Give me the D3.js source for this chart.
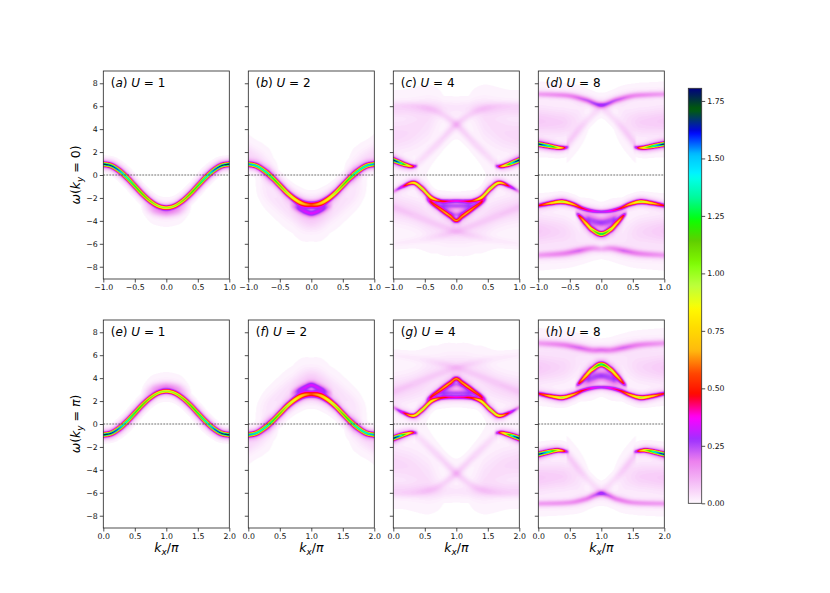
<!DOCTYPE html>
<html>
<head>
<meta charset="utf-8">
<script src="https://cdn.jsdelivr.net/npm/d3@7"></script>
<style>
  body { margin: 0; background: #fff; }
  svg { display: block; font-family: "DejaVu Sans", sans-serif; }
</style>
</head>
<body>
<svg id="main" width="830" height="593"></svg>
<script>
// ---- chart values ----
const vmax = 1.805;
const yTicks = [-8, -6, -4, -2, 0, 2, 4, 6, 8];
const xTicksTop = [-1, -0.5, 0, 0.5, 1];
const xTicksBottom = [0, 0.5, 1, 1.5, 2];
const cbTicks = [0, 0.25, 0.5, 0.75, 1, 1.25, 1.5, 1.75];
const panelLetters = ["a", "b", "c", "d", "e", "f", "g", "h"];
const panelU = [1, 2, 4, 8, 1, 2, 4, 8];
const rowKy = ["0", "π"];

const kA = [-1, -0.875, -0.75, -0.625, -0.5, -0.375, -0.25, -0.125, 0, 0.125, 0.25, 0.375, 0.5, 0.625, 0.75, 0.875, 1];
const kE = [0, 0.125, 0.25, 0.375, 0.5, 0.625, 0.75, 0.875, 1, 1.125, 1.25, 1.375, 1.5, 1.625, 1.75, 1.875, 2];

// each band: k nodes, omega centre w, peak weight a, width s
const bandsA = [
  { k: kA, w: [0.95, 0.81, 0.39, -0.22, -0.95, -1.68, -2.29, -2.71, -2.85, -2.71, -2.29, -1.68, -0.95, -0.22, 0.39, 0.81, 0.95],
    a: [1.78, 1.72, 1.6, 1.45, 1.3, 1.2, 1.1, 1.0, 0.95, 1.0, 1.1, 1.2, 1.3, 1.45, 1.6, 1.72, 1.78], s: 0.11 },
  { k: [-0.4, -0.2, 0, 0.2, 0.4], w: [-2.6, -3.1, -3.25, -3.1, -2.6], a: [0, 0.1, 0.14, 0.1, 0], s: 0.28 },
];
const bandsB = [
  { k: kA, w: [0.95, 0.8, 0.38, -0.2, -0.9, -1.6, -2.15, -2.5, -2.6, -2.5, -2.15, -1.6, -0.9, -0.2, 0.38, 0.8, 0.95],
    a: [1.55, 1.5, 1.42, 1.3, 1.15, 1.0, 0.85, 0.65, 0.55, 0.65, 0.85, 1.0, 1.15, 1.3, 1.42, 1.5, 1.55],
    s: [0.11, 0.11, 0.11, 0.11, 0.12, 0.13, 0.15, 0.18, 0.2, 0.18, 0.15, 0.13, 0.12, 0.11, 0.11, 0.11, 0.11] },
  { k: [-0.35, -0.2, -0.1, 0, 0.1, 0.2, 0.35], w: [-2.6, -2.95, -3.2, -3.35, -3.2, -2.95, -2.6], a: [0, 0.22, 0.28, 0.3, 0.28, 0.22, 0], s: 0.2 },
  { k: [-1, -0.8, -0.6], w: [1.8, 1.2, 0.3], a: [0.05, 0.035, 0], s: 0.5 },
  { k: [0.6, 0.8, 1], w: [0.3, 1.2, 1.8], a: [0, 0.035, 0.05], s: 0.5 },
  { k: [-0.9, -0.6, -0.3, 0, 0.3, 0.6, 0.9], w: [-1.0, -2.0, -3.2, -4.1, -3.2, -2.0, -1.0], a: [0, 0.03, 0.04, 0.05, 0.04, 0.03, 0], s: 0.55 },
  { k: [-0.82, -0.67, -0.52], w: [0, 0, 0], a: [0, 0.06, 0], s: 0.55 },
  { k: [0.52, 0.67, 0.82], w: [0, 0, 0], a: [0, 0.06, 0], s: 0.55 },
];
const bandsC = [
  { k: [-1, -0.9, -0.8, -0.7, -0.6], w: [1.3, 1.08, 0.88, 0.75, 0.8], a: [1.8, 1.55, 1.05, 0.6, 0], s: 0.11 },
  { k: [0.6, 0.7, 0.8, 0.9, 1], w: [0.8, 0.75, 0.88, 1.08, 1.3], a: [0, 0.6, 1.05, 1.55, 1.8], s: 0.11 },
  { k: [-1, -0.85, -0.68, -0.55, -0.4, -0.25, -0.12, 0, 0.12, 0.25, 0.4, 0.55, 0.68, 0.85, 1],
    w: [-1.45, -1.0, -0.68, -1.15, -1.95, -2.25, -2.27, -2.25, -2.27, -2.25, -1.95, -1.15, -0.68, -1.0, -1.45],
    a: [0.12, 0.4, 0.85, 1.0, 0.85, 0.45, 0.36, 0.34, 0.36, 0.45, 0.85, 1.0, 0.85, 0.4, 0.12], s: 0.11 },
  { k: [-0.5, -0.4, -0.3, -0.2, -0.1, 0, 0.1, 0.2, 0.3, 0.4, 0.5], w: [-2.0, -2.4, -2.8, -3.2, -3.6, -3.98, -3.6, -3.2, -2.8, -2.4, -2.0],
    a: [0, 0.45, 0.5, 0.52, 0.55, 0.6, 0.55, 0.52, 0.5, 0.45, 0], s: 0.12 },
  { k: [-0.4, -0.2, 0, 0.2, 0.4], w: [-2.5, -2.65, -2.7, -2.65, -2.5], a: [0, 0.2, 0.22, 0.2, 0], s: 0.22 },
  { k: [-0.3, -0.15, 0, 0.15, 0.3], w: [-2.9, -3.2, -3.45, -3.2, -2.9], a: [0, 0.15, 0.18, 0.15, 0], s: 0.2 },
  { k: [-0.65, -0.3, 0, 0.3, 0.6, 1], w: [0.85, 2.7, 4.4, 5.5, 6.0, 6.1], a: [0.03, 0.05, 0.06, 0.04, 0.03, 0.02], s: 0.22 },
  { k: [-1, -0.6, -0.3, 0, 0.3, 0.65], w: [6.1, 6.0, 5.5, 4.4, 2.7, 0.85], a: [0.02, 0.03, 0.04, 0.06, 0.05, 0.03], s: 0.22 },
  { k: [-1, -0.5, 0, 0.5, 1], w: [5.7, 5.8, 5.9, 5.8, 5.7], a: [0.04, 0.035, 0.025, 0.035, 0.04], s: 0.4 },
  { k: [-1, -0.75, -0.45, -0.2], w: [3.4, 3.7, 4.6, 5.4], a: [0.05, 0.045, 0.035, 0], s: 1.0 },
  { k: [0.2, 0.45, 0.75, 1], w: [5.4, 4.6, 3.7, 3.4], a: [0, 0.035, 0.045, 0.05], s: 1.0 },
  { k: [-1, -0.5, 0, 0.5, 1], w: [-2.8, -3.9, -4.9, -5.6, -6.0], a: [0.03, 0.03, 0.04, 0.02, 0.015], s: 0.22 },
  { k: [-1, -0.5, 0, 0.5, 1], w: [-6.0, -5.6, -4.9, -3.9, -2.8], a: [0.015, 0.02, 0.04, 0.03, 0.03], s: 0.22 },
  { k: [-1, -0.6, -0.3, 0, 0.3, 0.6, 1], w: [-2.8, -3.4, -4.4, -5.0, -4.4, -3.4, -2.8], a: [0.05, 0.045, 0.035, 0.03, 0.035, 0.045, 0.05], s: 0.8 },
];
const bandsD = [
  { k: [-1, -0.85, -0.7, -0.6, -0.5], w: [2.7, 2.55, 2.4, 2.37, 2.45], a: [1.75, 1.5, 1.0, 0.6, 0], s: 0.11 },
  { k: [0.5, 0.6, 0.7, 0.85, 1], w: [2.45, 2.37, 2.4, 2.55, 2.7], a: [0, 0.6, 1.0, 1.5, 1.75], s: 0.11 },
  { k: [-1, -0.75, -0.5, -0.25, 0, 0.25, 0.5, 0.75, 1], w: [7.05, 7.0, 6.9, 6.55, 6.1, 6.55, 6.9, 7.0, 7.05],
    a: [0.13, 0.15, 0.17, 0.22, 0.28, 0.22, 0.17, 0.15, 0.13], s: 0.18 },
  { k: [-1, -0.6, -0.4, -0.2], w: [4.7, 4.6, 4.8, 5.4], a: [0.07, 0.06, 0.035, 0], s: 0.85 },
  { k: [0.2, 0.4, 0.6, 1], w: [5.4, 4.8, 4.6, 4.7], a: [0, 0.035, 0.06, 0.07], s: 0.85 },
  { k: [-0.55, -0.3, 0], w: [2.6, 4.3, 6.0], a: [0.06, 0.045, 0.03], s: 0.22 },
  { k: [0, 0.3, 0.55], w: [6.0, 4.3, 2.6], a: [0.03, 0.045, 0.06], s: 0.22 },
  { k: [-1, -0.8, -0.62, -0.45, -0.3, -0.15, 0, 0.15, 0.3, 0.45, 0.62, 0.8, 1],
    w: [-2.67, -2.45, -2.33, -2.55, -2.9, -3.12, -3.2, -3.12, -2.9, -2.55, -2.33, -2.45, -2.67],
    a: [0.45, 0.75, 1.0, 0.7, 0.45, 0.35, 0.3, 0.35, 0.45, 0.7, 1.0, 0.75, 0.45], s: 0.12 },
  { k: [-0.42, -0.35, -0.25, -0.15, 0, 0.15, 0.25, 0.35, 0.42], w: [-3.3, -3.6, -4.2, -4.75, -5.15, -4.75, -4.2, -3.6, -3.3],
    a: [0, 0.5, 0.7, 0.95, 1.35, 0.95, 0.7, 0.5, 0], s: 0.12 },
  { k: [-0.35, -0.2, 0, 0.2, 0.35], w: [-3.55, -3.85, -4.15, -3.85, -3.55], a: [0, 0.22, 0.27, 0.22, 0], s: 0.32 },
  { k: [-1, -0.6, -0.35, -0.15, 0, 0.15, 0.35, 0.6, 1], w: [-7.0, -6.85, -6.6, -6.4, -6.45, -6.4, -6.6, -6.85, -7.0],
    a: [0.13, 0.17, 0.2, 0.15, 0.11, 0.15, 0.2, 0.17, 0.13], s: 0.2 },
  { k: [-1, -0.6, -0.35, 0], w: [-4.9, -5.0, -5.3, -5.6], a: [0.07, 0.05, 0.025, 0], s: 0.9 },
  { k: [0, 0.35, 0.6, 1], w: [-5.6, -5.3, -5.0, -4.9], a: [0, 0.025, 0.05, 0.07], s: 0.9 },
];
const bandsE = [
  { k: kE, w: [-0.95, -0.81, -0.39, 0.22, 0.95, 1.68, 2.29, 2.71, 2.85, 2.71, 2.29, 1.68, 0.95, 0.22, -0.39, -0.81, -0.95],
    a: [1.78, 1.72, 1.6, 1.45, 1.3, 1.2, 1.1, 1.0, 0.95, 1.0, 1.1, 1.2, 1.3, 1.45, 1.6, 1.72, 1.78], s: 0.11 },
  { k: [0.6, 0.8, 1, 1.2, 1.4], w: [2.6, 3.1, 3.25, 3.1, 2.6], a: [0, 0.1, 0.14, 0.1, 0], s: 0.28 },
];
const bandsF = [
  { k: kE, w: [-0.95, -0.8, -0.38, 0.2, 0.9, 1.6, 2.15, 2.5, 2.6, 2.5, 2.15, 1.6, 0.9, 0.2, -0.38, -0.8, -0.95],
    a: [1.55, 1.5, 1.42, 1.3, 1.15, 1.0, 0.85, 0.65, 0.55, 0.65, 0.85, 1.0, 1.15, 1.3, 1.42, 1.5, 1.55],
    s: [0.11, 0.11, 0.11, 0.11, 0.12, 0.13, 0.15, 0.18, 0.2, 0.18, 0.15, 0.13, 0.12, 0.11, 0.11, 0.11, 0.11] },
  { k: [0.65, 0.8, 0.9, 1, 1.1, 1.2, 1.35], w: [2.6, 2.95, 3.2, 3.4, 3.2, 2.95, 2.6], a: [0, 0.22, 0.28, 0.3, 0.28, 0.22, 0], s: 0.2 },
  { k: [0, 0.2, 0.4], w: [-1.8, -1.2, -0.3], a: [0.05, 0.035, 0], s: 0.5 },
  { k: [1.6, 1.8, 2], w: [-0.3, -1.2, -1.8], a: [0, 0.035, 0.05], s: 0.5 },
  { k: [0.1, 0.4, 0.7, 1, 1.3, 1.6, 1.9], w: [1.0, 2.0, 3.2, 4.1, 3.2, 2.0, 1.0], a: [0, 0.03, 0.04, 0.05, 0.04, 0.03, 0], s: 0.55 },
  { k: [0.18, 0.33, 0.48], w: [0, 0, 0], a: [0, 0.06, 0], s: 0.55 },
  { k: [1.52, 1.67, 1.82], w: [0, 0, 0], a: [0, 0.06, 0], s: 0.55 },
];
const bandsG = [
  { k: [0, 0.1, 0.2, 0.3, 0.4], w: [-1.25, -1.05, -0.88, -0.75, -0.8], a: [1.8, 1.55, 1.05, 0.6, 0], s: 0.11 },
  { k: [1.6, 1.7, 1.8, 1.9, 2], w: [-0.8, -0.75, -0.88, -1.05, -1.25], a: [0, 0.6, 1.05, 1.55, 1.8], s: 0.11 },
  { k: [0, 0.15, 0.32, 0.45, 0.6, 0.75, 0.88, 1, 1.12, 1.25, 1.4, 1.55, 1.68, 1.85, 2],
    w: [1.45, 1.0, 0.72, 1.2, 1.95, 2.25, 2.3, 2.3, 2.3, 2.25, 1.95, 1.2, 0.72, 1.0, 1.45],
    a: [0.12, 0.4, 0.85, 1.0, 0.85, 0.45, 0.36, 0.34, 0.36, 0.45, 0.85, 1.0, 0.85, 0.4, 0.12], s: 0.11 },
  { k: [0.5, 0.6, 0.7, 0.8, 0.9, 1, 1.1, 1.2, 1.3, 1.4, 1.5], w: [2.0, 2.4, 2.8, 3.2, 3.6, 3.95, 3.6, 3.2, 2.8, 2.4, 2.0],
    a: [0, 0.45, 0.5, 0.52, 0.55, 0.6, 0.55, 0.52, 0.5, 0.45, 0], s: 0.12 },
  { k: [0.6, 0.8, 1, 1.2, 1.4], w: [2.5, 2.65, 2.7, 2.65, 2.5], a: [0, 0.2, 0.22, 0.2, 0], s: 0.22 },
  { k: [0.7, 0.85, 1, 1.15, 1.3], w: [2.9, 3.2, 3.45, 3.2, 2.9], a: [0, 0.15, 0.18, 0.15, 0], s: 0.2 },
  { k: [0.35, 0.7, 1, 1.3, 1.6, 2], w: [-0.85, -2.7, -4.3, -5.5, -6.0, -6.1], a: [0.03, 0.05, 0.06, 0.04, 0.03, 0.02], s: 0.22 },
  { k: [0, 0.4, 0.7, 1, 1.3, 1.65], w: [-6.1, -6.0, -5.5, -4.3, -2.7, -0.85], a: [0.02, 0.03, 0.04, 0.06, 0.05, 0.03], s: 0.22 },
  { k: [0, 0.5, 1, 1.5, 2], w: [-5.7, -5.8, -5.9, -5.8, -5.7], a: [0.04, 0.035, 0.025, 0.035, 0.04], s: 0.4 },
  { k: [0, 0.25, 0.55, 0.8], w: [-3.4, -3.7, -4.6, -5.4], a: [0.05, 0.045, 0.035, 0], s: 1.0 },
  { k: [1.2, 1.45, 1.75, 2], w: [-5.4, -4.6, -3.7, -3.4], a: [0, 0.035, 0.045, 0.05], s: 1.0 },
  { k: [0, 0.5, 1, 1.5, 2], w: [2.8, 3.9, 4.9, 5.6, 6.0], a: [0.03, 0.03, 0.04, 0.02, 0.015], s: 0.22 },
  { k: [0, 0.5, 1, 1.5, 2], w: [6.0, 5.6, 4.9, 3.9, 2.8], a: [0.015, 0.02, 0.04, 0.03, 0.03], s: 0.22 },
  { k: [0, 0.4, 0.7, 1, 1.3, 1.6, 2], w: [2.8, 3.4, 4.4, 5.0, 4.4, 3.4, 2.8], a: [0.05, 0.045, 0.035, 0.03, 0.035, 0.045, 0.05], s: 0.8 },
];
const bandsH = [
  { k: [0, 0.15, 0.3, 0.4, 0.5], w: [-2.65, -2.45, -2.3, -2.35, -2.45], a: [1.75, 1.5, 1.0, 0.6, 0], s: 0.11 },
  { k: [1.5, 1.6, 1.7, 1.85, 2], w: [-2.45, -2.35, -2.3, -2.45, -2.65], a: [0, 0.6, 1.0, 1.5, 1.75], s: 0.11 },
  { k: [0, 0.2, 0.38, 0.55, 0.7, 0.85, 1, 1.15, 1.3, 1.45, 1.62, 1.8, 2],
    w: [2.65, 2.42, 2.3, 2.55, 2.9, 3.12, 3.2, 3.12, 2.9, 2.55, 2.3, 2.42, 2.65],
    a: [0.45, 0.75, 1.0, 0.7, 0.45, 0.35, 0.3, 0.35, 0.45, 0.7, 1.0, 0.75, 0.45], s: 0.12 },
  { k: [0.58, 0.65, 0.75, 0.85, 1, 1.15, 1.25, 1.35, 1.42], w: [3.3, 3.6, 4.2, 4.75, 5.2, 4.75, 4.2, 3.6, 3.3],
    a: [0, 0.5, 0.7, 0.95, 1.35, 0.95, 0.7, 0.5, 0], s: 0.12 },
  { k: [0.65, 0.8, 1, 1.2, 1.35], w: [3.55, 3.85, 4.2, 3.85, 3.55], a: [0, 0.22, 0.27, 0.22, 0], s: 0.32 },
  { k: [0, 0.4, 0.65, 0.85, 1, 1.15, 1.35, 1.6, 2], w: [7.05, 6.9, 6.65, 6.45, 6.45, 6.45, 6.65, 6.9, 7.05],
    a: [0.13, 0.17, 0.2, 0.18, 0.2, 0.18, 0.2, 0.17, 0.13], s: 0.2 },
  { k: [0, 0.5, 0.75, 0.9, 1, 1.1, 1.25, 1.5, 2], w: [-6.95, -6.85, -6.55, -6.2, -6.05, -6.2, -6.55, -6.85, -6.95],
    a: [0.13, 0.15, 0.18, 0.22, 0.28, 0.22, 0.18, 0.15, 0.13], s: 0.18 },
  { k: [0, 0.4, 0.6, 0.8], w: [-4.7, -4.6, -4.8, -5.4], a: [0.07, 0.06, 0.035, 0], s: 0.85 },
  { k: [1.2, 1.4, 1.6, 2], w: [-5.4, -4.8, -4.6, -4.7], a: [0, 0.035, 0.06, 0.07], s: 0.85 },
  { k: [0.45, 0.7, 1], w: [-2.6, -4.3, -6.0], a: [0.06, 0.045, 0.03], s: 0.22 },
  { k: [1, 1.3, 1.55], w: [-6.0, -4.3, -2.6], a: [0.03, 0.045, 0.06], s: 0.22 },
  { k: [0, 0.4, 0.65, 1], w: [4.9, 5.0, 5.3, 5.6], a: [0.07, 0.05, 0.025, 0], s: 0.9 },
  { k: [1, 1.35, 1.6, 2], w: [5.6, 5.3, 5.0, 4.9], a: [0, 0.025, 0.05, 0.07], s: 0.9 },
];
const panelBands = [bandsA, bandsB, bandsC, bandsD, bandsE, bandsF, bandsG, bandsH];

// gist_ncar segment data (used reversed)
const ncarR = { x: [0, 0.3098, 0.3725, 0.4235, 0.5333, 0.7922, 0.8471, 0.898, 1],
                y: [0, 0, 0.3993, 0.5003, 1, 1, 0.6218, 0.9235, 0.9961] };
const ncarG = { x: [0, 0.051, 0.1059, 0.1569, 0.1608, 0.1647, 0.2157, 0.2588, 0.2706, 0.3176, 0.3686, 0.4275, 0.5216, 0.6314, 0.6863, 0.7451, 0.7922, 0.8431, 0.898, 1],
                y: [0, 0.3722, 0, 0.7202, 0.7537, 0.7752, 1, 0.9804, 0.9804, 1, 0.8081, 1, 1, 0.7292, 0.2796, 0, 0, 0.1753, 0.5, 0.9725] };
const ncarB = { x: [0, 0.051, 0.1098, 0.2039, 0.2627, 0.3216, 0.4157, 0.4745, 0.5333, 0.5804, 0.6314, 0.6902, 0.7373, 0.7922, 0.8, 0.8431, 0.898, 1],
                y: [0.502, 0.0222, 1, 1, 0.6145, 0, 0, 0.2342, 0, 0, 0.0549, 0, 0, 0.9738, 1, 1, 0.9341, 0.9961] };

// ---- layout ----
const colX = [103.3, 248.3, 393.3, 538.3], pw = 126;
const rowY = [71, 320], ph = 208;
const wLim = 9.07;
const cb = { x: 688.3, y: 88.3, w: 13.4, h: 415 };

const chR = d3.scaleLinear().domain(ncarR.x).range(ncarR.y);
const chG = d3.scaleLinear().domain(ncarG.x).range(ncarG.y);
const chB = d3.scaleLinear().domain(ncarB.x).range(ncarB.y);
const cmap = t => {
  const u = 1 - Math.max(0, Math.min(1, t));
  return [Math.round(255 * chR(u)), Math.round(255 * chG(u)), Math.round(255 * chB(u))];
};
const lut = d3.range(256).map(i => cmap(i / 255));
lut[0] = [255, 255, 255];

function hermite(ks, vs) {
  const n = ks.length;
  const m = vs.map((v, i) => {
    if (i === 0) return (vs[1] - vs[0]) / (ks[1] - ks[0]);
    if (i === n - 1) return (vs[n - 1] - vs[n - 2]) / (ks[n - 1] - ks[n - 2]);
    return (vs[i + 1] - vs[i - 1]) / (ks[i + 1] - ks[i - 1]);
  });
  return k => {
    if (k <= ks[0]) return vs[0];
    if (k >= ks[n - 1]) return vs[n - 1];
    const i = Math.min(n - 2, d3.bisectRight(ks, k) - 1);
    const h = ks[i + 1] - ks[i], t = (k - ks[i]) / h, t2 = t * t, t3 = t2 * t;
    return (2 * t3 - 3 * t2 + 1) * vs[i] + (t3 - 2 * t2 + t) * h * m[i]
         + (-2 * t3 + 3 * t2) * vs[i + 1] + (t3 - t2) * h * m[i + 1];
  };
}

function renderPanel(bands, xs, ys) {
  const sc = 2, cw = pw * sc, chh = ph * sc;
  const cv = document.createElement("canvas");
  cv.width = cw; cv.height = chh;
  const ctx = cv.getContext("2d");
  const img = ctx.createImageData(cw, chh);
  const grid = new Float32Array(cw * chh);
  const slopePx = (ys(0) - ys(1)) / (xs(1) - xs(0));
  const fns = bands.map(b => ({
    k0: b.k[0], k1: b.k[b.k.length - 1],
    w: hermite(b.k, b.w),
    a: d3.scaleLinear().domain(b.k).range(b.a).clamp(true),
    s: Array.isArray(b.s) ? d3.scaleLinear().domain(b.k).range(b.s) : () => b.s
  }));
  const x0 = xs.range()[0], yTop = ys.range()[1];
  for (let i = 0; i < cw; i++) {
    const kx = xs.invert(x0 + (i + 0.5) / sc);
    for (const f of fns) {
      if (kx < f.k0 || kx > f.k1) continue;
      const amp = Math.max(0, f.a(kx));
      if (amp <= 0) continue;
      const wc = f.w(kx);
      const ka = Math.max(f.k0, kx - 0.003), kb = Math.min(f.k1, kx + 0.003);
      const dw = kb > ka ? (f.w(kb) - f.w(ka)) / (kb - ka) : 0;
      const sv = f.s(kx) * Math.sqrt(1 + (dw * slopePx) ** 2);
      for (let j = 0; j < chh; j++) {
        const w = ys.invert(yTop + (j + 0.5) / sc);
        const x = (w - wc) / sv;
        if (x > 12 || x < -12) continue;
        grid[j * cw + i] += amp * (0.86 * Math.exp(-0.5 * x * x) + 0.14 * Math.exp(-0.08 * x * x));
      }
    }
  }
  for (let p = 0; p < grid.length; p++) {
    const c = lut[Math.min(255, Math.round(255 * grid[p] / vmax))];
    img.data[4 * p] = c[0]; img.data[4 * p + 1] = c[1]; img.data[4 * p + 2] = c[2]; img.data[4 * p + 3] = 255;
  }
  ctx.putImageData(img, 0, 0);
  return cv.toDataURL();
}

const svg = d3.select("#main");
svg.append("rect").attr("width", 830).attr("height", 593).attr("fill", "#fff");

panelBands.forEach((bands, idx) => {
  const row = Math.floor(idx / 4), col = idx % 4;
  const left = colX[col], top = rowY[row];
  const xs = d3.scaleLinear().domain(row === 0 ? [-1, 1] : [0, 2]).range([left, left + pw]);
  const ys = d3.scaleLinear().domain([-wLim, wLim]).range([top + ph, top]);
  const g = svg.append("g");

  g.append("image")
    .attr("x", left).attr("y", top).attr("width", pw).attr("height", ph)
    .attr("preserveAspectRatio", "none")
    .attr("href", renderPanel(bands, xs, ys));

  g.append("line")
    .attr("x1", left).attr("x2", left + pw)
    .attr("y1", ys(0)).attr("y2", ys(0))
    .attr("stroke", "#333").attr("stroke-width", 0.7)
    .attr("stroke-dasharray", "1.9,1.1");

  const xAxis = d3.axisBottom(xs).tickValues(row === 0 ? xTicksTop : xTicksBottom)
    .tickSize(3.5).tickPadding(2.2).tickFormat(d3.format(".1f"));
  const yAxis = d3.axisLeft(ys).tickValues(yTicks).tickSize(3.5).tickPadding(2)
    .tickFormat(col === 0 ? d3.format("d") : () => "");
  [g.append("g").attr("transform", `translate(0,${top + ph})`).call(xAxis),
   g.append("g").attr("transform", `translate(${left},0)`).call(yAxis)].forEach(ax => {
    ax.select(".domain").remove();
    ax.selectAll(".tick line").attr("stroke", "#222").attr("stroke-width", 0.8);
    ax.selectAll(".tick text").attr("font-size", 7.8).attr("font-family", "DejaVu Sans").attr("fill", "#111");
  });

  g.append("rect")
    .attr("x", left).attr("y", top).attr("width", pw).attr("height", ph)
    .attr("fill", "none").attr("stroke", "#222").attr("stroke-width", 0.8);

  const title = g.append("text").attr("x", left + 7.4).attr("y", top + 16.3)
    .attr("font-size", 12).attr("fill", "#000");
  title.append("tspan").text("(");
  title.append("tspan").attr("font-style", "italic").text(panelLetters[idx]);
  title.append("tspan").text(") ");
  title.append("tspan").attr("font-style", "italic").text("U");
  title.append("tspan").text(" = " + panelU[idx]);

  if (col === 0) {
    const yl = g.append("text")
      .attr("transform", `translate(80,${top + ph / 2}) rotate(-90)`)
      .attr("text-anchor", "middle").attr("font-size", 12.5).attr("fill", "#000");
    yl.append("tspan").attr("font-style", "italic").text("ω");
    yl.append("tspan").text("(");
    yl.append("tspan").attr("font-style", "italic").text("k");
    yl.append("tspan").attr("font-style", "italic").attr("font-size", 8.8).attr("dy", 2.6).text("y");
    yl.append("tspan").attr("dy", -2.6).text(" = ");
    yl.append("tspan").attr("font-style", rowKy[row] === "π" ? "italic" : "normal").text(rowKy[row]);
    yl.append("tspan").text(")");
  }
  if (row === 1) {
    const xl = g.append("text").attr("x", left + pw / 2).attr("y", 552)
      .attr("text-anchor", "middle").attr("font-size", 12.5).attr("fill", "#000");
    xl.append("tspan").attr("font-style", "italic").text("k");
    xl.append("tspan").attr("font-style", "italic").attr("font-size", 8.8).attr("dy", 2.6).text("x");
    xl.append("tspan").attr("dy", -2.6).text("/");
    xl.append("tspan").attr("font-style", "italic").text("π");
  }
});

// ---- colour bar ----
const cbScale = d3.scaleLinear().domain([0, vmax]).range([cb.y + cb.h, cb.y]);
const grad = svg.append("defs").append("linearGradient")
  .attr("id", "cbgrad").attr("x1", 0).attr("y1", 1).attr("x2", 0).attr("y2", 0);
d3.range(0, 1.0001, 1 / 128).forEach(t => {
  const c = cmap(t);
  grad.append("stop").attr("offset", t).attr("stop-color", `rgb(${c[0]},${c[1]},${c[2]})`);
});
svg.append("rect").attr("x", cb.x).attr("y", cb.y).attr("width", cb.w).attr("height", cb.h)
  .attr("fill", "url(#cbgrad)").attr("stroke", "#333").attr("stroke-width", 0.8);
const cbAxis = svg.append("g").attr("transform", `translate(${cb.x + cb.w},0)`)
  .call(d3.axisRight(cbScale).tickValues(cbTicks).tickSize(3.5).tickPadding(2).tickFormat(d3.format(".2f")));
cbAxis.select(".domain").remove();
cbAxis.selectAll(".tick line").attr("stroke", "#222").attr("stroke-width", 0.8);
cbAxis.selectAll(".tick text").attr("font-size", 7.8).attr("font-family", "DejaVu Sans").attr("fill", "#111");
</script>
</body>
</html>
